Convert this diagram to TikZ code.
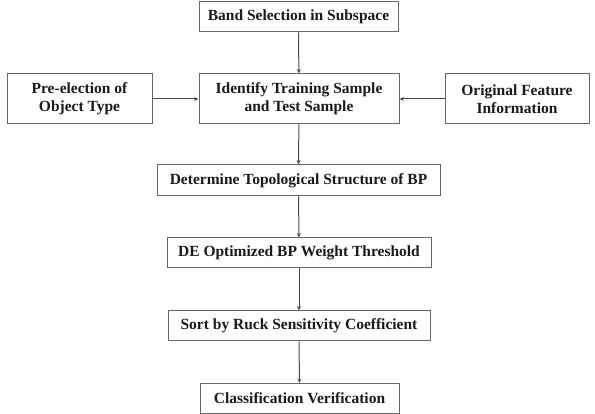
\documentclass[tikz,border=0pt]{standalone}
\usepackage{fontspec}
\setmainfont{Liberation Serif}
\usetikzlibrary{arrows.meta}
\definecolor{boxline}{HTML}{666666}
\definecolor{arrline}{HTML}{4A4A4A}
\definecolor{txt}{HTML}{1A1A1A}
\begin{document}
\begin{tikzpicture}[x=1pt,y=-1pt,
  stepbox/.style={draw=boxline,line width=1pt,fill=white,inner sep=0pt,align=center,
    font=\fontsize{15.5}{18}\selectfont\bfseries,text=txt},
  conn/.style={draw=arrline,line width=1pt,-{Stealth[length=4.5pt,width=4pt]}}]
\useasboundingbox (0,0) rectangle (595,414);
\node[stepbox,minimum width=199pt,minimum height=30pt] (band) at (298.5,17) {Band Selection in Subspace};
\node[stepbox,minimum width=200pt,minimum height=50pt] (ident) at (299,99) {Identify Training Sample\\and Test Sample};
\node[stepbox,minimum width=145pt,minimum height=50pt] (pre) at (79.5,99) {Pre-election of\\Object Type};
\node[stepbox,minimum width=144pt,minimum height=50pt] (orig) at (517,99) {Original Feature\\Information};
\node[stepbox,minimum width=283pt,minimum height=31pt] (topo) at (298.5,180.5) {Determine Topological Structure of BP};
\node[stepbox,minimum width=264pt,minimum height=30pt] (de) at (299,253) {DE Optimized BP Weight Threshold};
\node[stepbox,minimum width=262pt,minimum height=30pt] (sort) at (299,326) {Sort by Ruck Sensitivity Coefficient};
\node[stepbox,minimum width=199pt,minimum height=30pt] (cls) at (299.5,398.5) {Classification Verification};
\draw[conn] (band) -- (ident);
\draw[conn] (pre) -- (ident);
\draw[conn] (orig) -- (ident);
\draw[conn] (ident) -- (topo);
\draw[conn] (topo) -- (de);
\draw[conn] (de) -- (sort);
\draw[conn] (sort) -- (cls);
\end{tikzpicture}
\end{document}
